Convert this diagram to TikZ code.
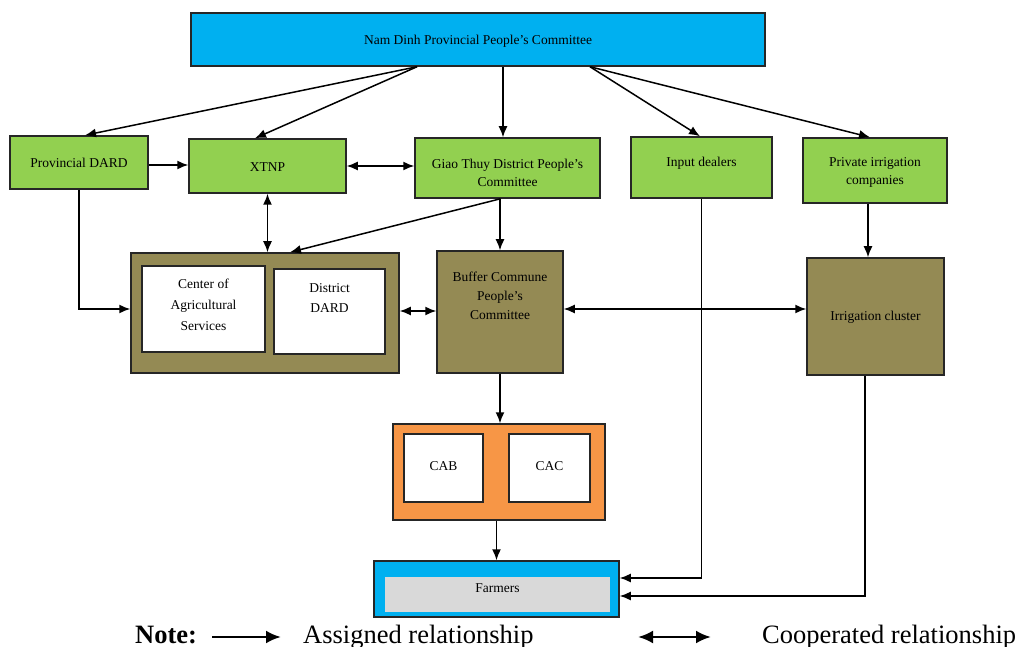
\documentclass[tikz,border=0pt]{standalone}
\usepackage{fontspec}
\setmainfont{Liberation Serif}
\usetikzlibrary{arrows.meta,calc}
\definecolor{cyanbox}{HTML}{00B0F0}
\definecolor{greenbox}{HTML}{92D050}
\definecolor{olivebox}{HTML}{948A54}
\definecolor{orangebox}{HTML}{F79646}
\definecolor{graybox}{HTML}{D9D9D9}
\begin{document}
\begin{tikzpicture}[x=1pt,y=-1pt,
  box/.style={draw=black!85, line width=1.5pt, inner sep=0pt},
  arr/.style={line width=1.5pt, -{Latex[length=11pt,width=9pt]}},
  darr/.style={line width=1.5pt, {Latex[length=11pt,width=9pt]}-{Latex[length=11pt,width=9pt]}},
  lbl/.style={font=\fontsize{13.5}{18}\selectfont, align=center, inner sep=0pt},
  leg/.style={font=\fontsize{26.5}{30}\selectfont, inner sep=0pt, anchor=base west}]
\useasboundingbox (0,0) rectangle (1021,647);

% boxes
\node[box, fill=cyanbox, minimum width=574pt, minimum height=53pt] (top) at (478,39.5) {};
\node[lbl] (topt) at ([yshift=-2pt]top.center) {Nam Dinh Provincial People’s Committee};

\node[box, fill=greenbox, minimum width=138pt, minimum height=53pt] (pd) at (79,162.5) {};
\node[lbl] (pdt) at ([yshift=0pt]pd.center) {Provincial DARD};

\node[box, fill=greenbox, minimum width=157pt, minimum height=54pt] (xt) at (267.5,166) {};
\node[lbl] (xtt) at ([yshift=-1pt]xt.center) {XTNP};

\node[box, fill=greenbox, minimum width=185pt, minimum height=60pt] (gt) at (507.5,168) {};
\node[lbl] (gtt) at ([yshift=-5pt]gt.center) {Giao Thuy District People’s\\Committee};

\node[box, fill=greenbox, minimum width=141pt, minimum height=61pt] (id) at (701.5,167.5) {};
\node[lbl] (idt) at ([yshift=4pt]id.center) {Input dealers};

\node[box, fill=greenbox, minimum width=144pt, minimum height=65pt] (pic) at (875,170.5) {};
\node[lbl] (pict) at ([yshift=-2pt]pic.center) {Private irrigation\\companies};

\node[box, fill=olivebox, minimum width=268pt, minimum height=120pt] (ol) at (265,313) {};
\node[box, fill=white, minimum width=123pt, minimum height=86pt] (cas) at (203.5,309) {};
\node[lbl, font=\fontsize{13.5}{21}\selectfont] (cast) at ([yshift=4pt]cas.center) {Center of\\Agricultural\\Services};
\node[box, fill=white, minimum width=111pt, minimum height=85pt] (dd) at (329.5,311.5) {};
\node[lbl, font=\fontsize{13.5}{20}\selectfont] (ddt) at ([yshift=13pt]dd.center) {District\\DARD};

\node[box, fill=olivebox, minimum width=126pt, minimum height=122pt] (bc) at (500,312) {};
\node[lbl, font=\fontsize{13.5}{19}\selectfont] (bct) at ([yshift=16pt]bc.center) {Buffer Commune\\People’s\\Committee};

\node[box, fill=olivebox, minimum width=137pt, minimum height=117pt] (ic) at (875.5,316.5) {};
\node[lbl] (ict) at ([yshift=-1pt]ic.center) {Irrigation cluster};

\node[box, fill=orangebox, minimum width=212pt, minimum height=96pt] (or) at (499,472) {};
\node[box, fill=white, minimum width=79pt, minimum height=68pt] (cab) at (443.5,468) {};
\node[lbl] (cabt) at ([yshift=2pt]cab.center) {CAB};
\node[box, fill=white, minimum width=81pt, minimum height=68pt] (cac) at (549.5,468) {};
\node[lbl] (cact) at ([yshift=2pt]cac.center) {CAC};

\node[box, fill=cyanbox, minimum width=245pt, minimum height=56pt] (fo) at (496.5,589) {};
\node[box, draw=none, fill=graybox, minimum width=225pt, minimum height=35pt] (fi) at (497.5,594.5) {};
\node[lbl] (fit) at ([yshift=6pt]fi.center) {Farmers};

% connectors
\draw[arr] ([xshift=-61pt]top.south) -- ([xshift=6pt]pd.north);
\draw[arr] ([xshift=-61pt]top.south) -- ([xshift=-12.5pt]xt.north);
\draw[arr] ([xshift=25pt]top.south) -- ([xshift=25pt]top.south |- gt.north);
\draw[arr] ([xshift=112pt]top.south) -- ([xshift=-1.5pt]id.north);
\draw[arr] ([xshift=112pt]top.south) -- ([xshift=-5pt]pic.north);

\draw[arr] ([yshift=-2.5pt]pd.east) -- ([yshift=-2.5pt]pd.east -| xt.west);
\draw[darr] (xt.east) -- (xt.east -| gt.west);
\draw[darr] (xt.south) -- (xt.south |- ol.north);
\draw[arr] ([xshift=-7pt]gt.south) -- ([xshift=25pt]ol.north);
\draw[arr] (bc.north |- gt.south) -- (bc.north);
\draw[arr] (pd.south) |- ([yshift=4pt]ol.west);
\draw[darr] ([yshift=2pt]ol.east) -- ([yshift=2pt]ol.east -| bc.west);
\draw[darr] ([yshift=3pt]bc.east) -- ([yshift=3pt]bc.east -| ic.west);
\draw[arr] ([xshift=-7pt]pic.south) -- ([xshift=-7pt]pic.south |- ic.north);
\draw[arr] (bc.south) -- (bc.south |- or.north);
\draw[arr] (fo.north |- or.south) -- (fo.north);
\draw[arr] (id.south) |- ([yshift=11pt]fo.east);
\draw[arr] ([xshift=-10.5pt]ic.south) |- ([yshift=-7pt]fo.east);

% legend
\node[leg, font=\bfseries\fontsize{26.5}{30}\selectfont] (note) at (135,643) {Note:};
\coordinate (la1) at (212,637);
\coordinate (la2) at (281,637);
\draw[line width=2.6pt, -{Latex[length=15pt,width=13pt]}] (la1) -- (la2);
\node[leg] (assig) at (303,643) {Assigned relationship};
\coordinate (lb1) at (638,637);
\coordinate (lb2) at (711,637);
\draw[line width=2.6pt, {Latex[length=15pt,width=13pt]}-{Latex[length=15pt,width=13pt]}] (lb1) -- (lb2);
\node[leg] (coop) at (762,643) {Cooperated relationship};
\end{tikzpicture}
\end{document}
